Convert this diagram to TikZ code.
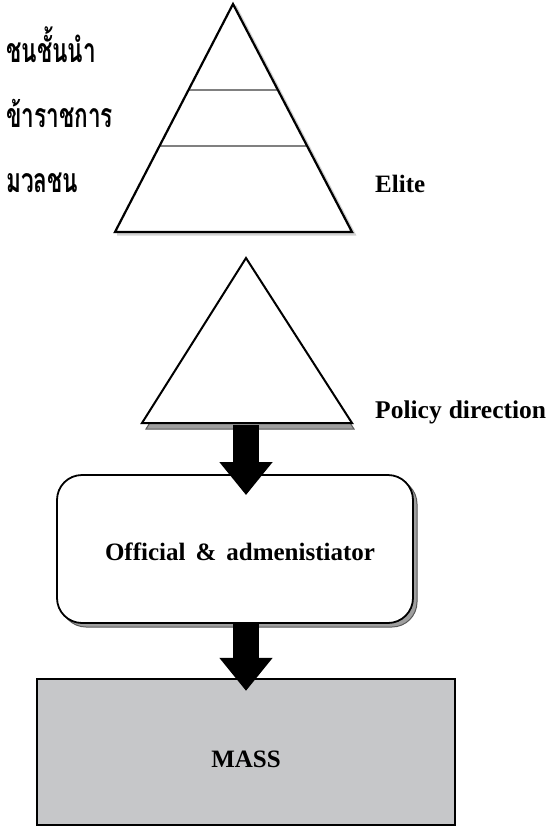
\documentclass[tikz,border=0pt]{standalone}
\usepackage{fontspec}
\setmainfont{Liberation Serif}
\newfontfamily\thaifont[Script=Thai]{Loma}
\usetikzlibrary{arrows.meta,calc}
\definecolor{massgray}{RGB}{198,199,201}

\begin{document}
\begin{tikzpicture}[x=1pt,y=1pt,
  lbl/.style={font=\fontsize{25}{30}\selectfont\bfseries, inner sep=0pt, anchor=base west},
  thlbl/.style={font=\thaifont\fontsize{26}{30}\selectfont\bfseries, inner sep=0pt, anchor=base west,
    xscale=0.87, yscale=1.3, transform shape},
  blockarrow/.style={draw=black, line width=26pt, -{Triangle[length=33pt,width=51pt]}},
  shade/.style={fill=gray!75, draw=gray!70!black, line width=1pt}]
\useasboundingbox (0,0) rectangle (552,-829);

%%%% top pyramid with its three layers
\coordinate (eapex) at (233,-4);
\coordinate (ebl) at (115,-232);
\coordinate (ebr) at (352,-232);
\draw[gray!35, line width=3pt] ($(eapex)+(2,-2)$) -- ($(ebr)+(2,-2)$) -- ($(ebl)+(2,-2)$); %soft shadow
\fill[white] (eapex) -- (ebl) -- (ebr) -- cycle;
\draw[gray, line width=1.6pt] ($(eapex)!0.377!(ebl)$) -- ($(eapex)!0.377!(ebr)$); %layer 1
\draw[gray, line width=1.6pt] ($(eapex)!0.623!(ebl)$) -- ($(eapex)!0.623!(ebr)$); %layer 2
\draw[line width=2.2pt, line join=miter] (eapex) -- (ebl) -- (ebr) -- cycle;

\node[thlbl] (elitet) at (6,-63) {ชนชั้นนำ};
\node[thlbl] (officialt) at (6,-128) {ข้าราชการ};
\node[thlbl] (masst) at (6,-193) {มวลชน};
\node[lbl] (elite) at (375,-193) {Elite};

%%%% policy triangle
\coordinate (papex) at (246,-258);
\coordinate (pbl) at (142,-423);
\coordinate (pbr) at (352,-423);
\filldraw[shade] ($(papex)+(2,-6)$) -- ($(pbl)+(4,-6)$) -- ($(pbr)+(2,-6)$) -- cycle; %under sheet
\filldraw[fill=white, line width=2pt, line join=miter] (papex) -- (pbl) -- (pbr) -- cycle;
\coordinate (pbase) at (246,-425);
\node[lbl, font=\fontsize{25.5}{30}\selectfont\bfseries] (policy) at (375,-418) {Policy\hspace{7pt}direction};

%%%% official box
\draw[shade, rounded corners=25pt] (61,-479) rectangle (417,-627); %shadow
\node[draw, fill=white, rounded corners=25pt, line width=1.8pt, minimum width=356pt, minimum height=148pt] (off) at (235,-549) {};
\node[lbl, anchor=base] (offt) at (240,-560) {Official\hspace{10pt}\&\hspace{10pt}admenistiator};

%%%% mass box
\node[draw, fill=massgray, line width=2.2pt, minimum width=418pt, minimum height=146pt] (mass) at (246,-752) {};
\node[lbl, anchor=base] (masst) at (246,-767) {MASS};

%%%% block arrows
\draw[blockarrow] (pbase) -- ($(pbase |- off.north)+(0,-21)$);
\draw[blockarrow] (pbase |- off.south) -- ($(pbase |- mass.north)+(0,-13)$);
\end{tikzpicture}
\end{document}
